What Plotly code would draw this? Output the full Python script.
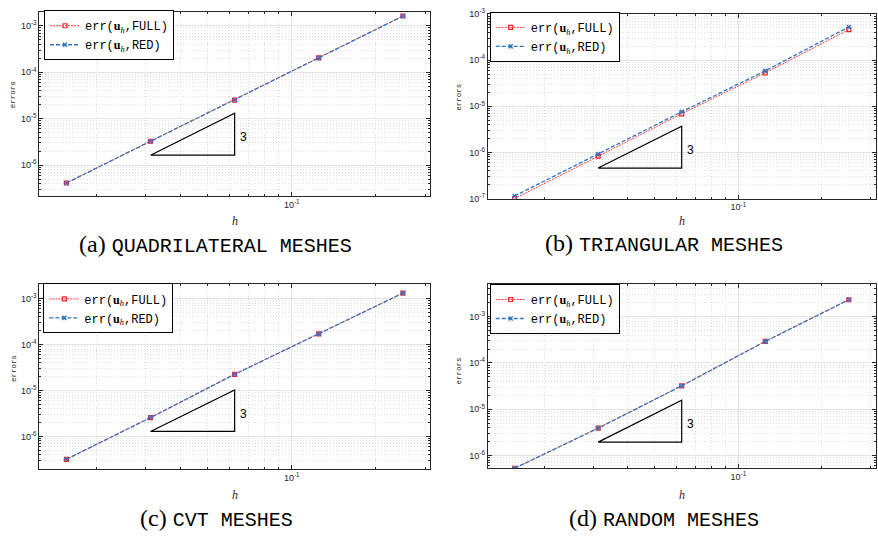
import numpy as np
import plotly.graph_objects as go

# Mesh sizes shared by all four mesh families
h = [1/64, 1/32, 1/16, 1/8, 1/4]

# Errors of the full and reduced discrete solutions
quad_full = [4.10e-7, 3.26e-6, 2.52e-5, 2.04e-4, 1.63e-3]
quad_red = [4.10e-7, 3.26e-6, 2.52e-5, 2.04e-4, 1.63e-3]
tri_full = [1.00e-7, 8.36e-7, 6.88e-6, 5.30e-5, 4.58e-4]
tri_red = [1.14e-7, 9.20e-7, 7.58e-6, 5.85e-5, 5.21e-4]
cvt_full = [3.19e-7, 2.58e-6, 2.26e-5, 1.71e-4, 1.32e-3]
cvt_red = [3.19e-7, 2.58e-6, 2.26e-5, 1.71e-4, 1.32e-3]
rnd_full = [5.30e-7, 3.90e-6, 3.21e-5, 2.92e-4, 2.32e-3]
rnd_red = [5.30e-7, 3.90e-6, 3.21e-5, 2.92e-4, 2.32e-3]

captions = ["(a)", "(b)", "(c)", "(d)"]
caption_names = ["QUADRILATERAL MESHES", "TRIANGULAR MESHES", "CVT MESHES", "RANDOM MESHES"]
slope_label = "3"
slope = 3

W, H = 878, 538


def px(x):
    return x / W


def py(y):
    return 1 - y / H


MONO = "Liberation Mono"
SERIF = "Liberation Serif"
SANS = "Liberation Sans"
AXC = "#262626"

panels = [
    dict(full=quad_full, red=quad_red, xd=(39.3, 430.0), yd=(5.3, 193.5), yr=(-6.671, -2.705),
         leg=(44, 7.3), cap=(215, 243), ylab=(13.3, 90), xlab_y=219),
    dict(full=tri_full, red=tri_red, xd=(487.7, 875.7), yd=(7.1, 196.0), yr=(-7.0, -3.0),
         leg=(489.7, 9.0), cap=(663.5, 242), ylab=(458.7, 92), xlab_y=219),
    dict(full=cvt_full, red=cvt_red, xd=(39.3, 430.0), yd=(283.3, 472.3), yr=(-6.702, -2.681),
         leg=(43.3, 286.7), cap=(216.5, 523), ylab=(13.3, 370), xlab_y=499),
    dict(full=rnd_full, red=rnd_red, xd=(487.7, 875.7), yd=(283.3, 472.0), yr=(-6.28, -2.294),
         leg=(489.7, 287.3), cap=(664, 523), ylab=(458.7, 372), xlab_y=499),
]

x_range = [np.log10(0.0125), np.log10(0.3125)]

x_major = [10.0 ** e for e in range(-3, 1)]
x_minor = [k * 10.0 ** e for e in range(-3, 0) for k in range(2, 10)]
y_major = [10.0 ** e for e in range(-9, 0)]
y_minor = [k * 10.0 ** e for e in range(-9, 0) for k in range(2, 10)]


def pow_text(v):
    return "10<sup>%d</sup>" % int(round(np.log10(v)))


def axis_common(tickvals, minorvals):
    return dict(
        type="log", showline=True, linecolor=AXC, linewidth=1, mirror="ticks",
        ticks="inside", ticklen=4, tickwidth=1, tickcolor=AXC,
        tickmode="array", tickvals=tickvals, ticktext=[pow_text(v) for v in tickvals],
        tickfont=dict(family=SANS, size=9, color=AXC),
        showgrid=True, gridcolor="#e4e4e4", gridwidth=1, zeroline=False,
        minor=dict(tickmode="array", tickvals=minorvals, ticks="inside", ticklen=2,
                   tickcolor=AXC, showgrid=True, gridcolor="#dedede", griddash="1px,2px", gridwidth=1),
    )


fig = go.Figure()
layout = dict(
    width=W, height=H, margin=dict(l=0, r=0, t=0, b=0),
    paper_bgcolor="white", plot_bgcolor="white", showlegend=True,
)
annotations = []

uh = '<span style="font-family:Liberation Serif"><b>u</b><sub><i>h</i></sub></span>'

for i, p in enumerate(panels):
    n = "" if i == 0 else str(i + 1)
    xa, ya = "x" + n, "y" + n
    lg = "legend" + n

    xax = axis_common(x_major, x_minor)
    xax.update(domain=[px(p["xd"][0]), px(p["xd"][1])], range=x_range, anchor=ya)
    yax = axis_common(y_major, y_minor)
    yax.update(domain=[py(p["yd"][1]), py(p["yd"][0])], range=list(p["yr"]), anchor=xa)
    layout["xaxis" + n] = xax
    layout["yaxis" + n] = yax

    fig.add_trace(go.Scatter(
        x=h, y=p["full"], xaxis=xa, yaxis=ya, legend=lg, mode="lines+markers",
        name="err(" + uh + ",FULL)",
        line=dict(color="#ff3b3b", width=1, dash="2px,1px"),
        marker=dict(symbol="square-open", size=4, color="#ff1f1f", line=dict(width=1.2)),
    ))
    fig.add_trace(go.Scatter(
        x=h, y=p["red"], xaxis=xa, yaxis=ya, legend=lg, mode="lines+markers",
        name="err(" + uh + ",RED)",
        line=dict(color="#2f74c0", width=1.3, dash="4px,2px"),
        marker=dict(symbol="x-thin-open", size=4, color="#2f74c0", line=dict(width=1.5, color="#2f74c0")),
    ))

    # slope triangle anchored below the second data point
    base = 0.5 * p["red"][1]
    top = base * (h[2] / h[1]) ** slope
    fig.add_trace(go.Scatter(
        x=[h[1], h[2], h[2], h[1]], y=[base, base, top, base], xaxis=xa, yaxis=ya,
        mode="lines", line=dict(color="black", width=1.2), showlegend=False, hoverinfo="skip",
    ))
    annotations.append(dict(
        x=np.log10(h[2]), y=np.log10(np.sqrt(base * top)), xref=xa, yref=ya,
        text=slope_label, showarrow=False, xanchor="left", yanchor="middle",
        xshift=3, yshift=-3, font=dict(family=SANS, size=12, color="black"),
    ))

    layout[lg] = dict(
        x=px(p["leg"][0]), y=py(p["leg"][1] - 4), xanchor="left", yanchor="top",
        bgcolor="white", bordercolor="black", borderwidth=1,
        font=dict(family=MONO, size=12, color="black"),
        itemwidth=30, tracegroupgap=0,
    )

    # axis labels
    annotations.append(dict(
        x=px(p["ylab"][0]), y=py(p["ylab"][1]), xref="paper", yref="paper",
        text="errors", textangle=-90, showarrow=False, xanchor="center", yanchor="middle",
        font=dict(family=MONO, size=7.5, color=AXC),
    ))
    annotations.append(dict(
        x=px((p["xd"][0] + p["xd"][1]) / 2), y=py(p["xlab_y"]), xref="paper", yref="paper",
        text="<i>h</i>", showarrow=False, xanchor="center", yanchor="middle",
        font=dict(family=SERIF, size=12, color=AXC),
    ))
    # sub-figure caption
    annotations.append(dict(
        x=px(p["cap"][0]), y=py(p["cap"][1]), xref="paper", yref="paper",
        text='<span style="font-family:Liberation Serif;font-size:24px">' + captions[i] + ' </span>'
             + caption_names[i],
        showarrow=False, xanchor="center", yanchor="middle",
        font=dict(family=MONO, size=20, color="black"),
    ))

layout["annotations"] = annotations
fig.update_layout(**layout)
fig.write_html("out.html")
